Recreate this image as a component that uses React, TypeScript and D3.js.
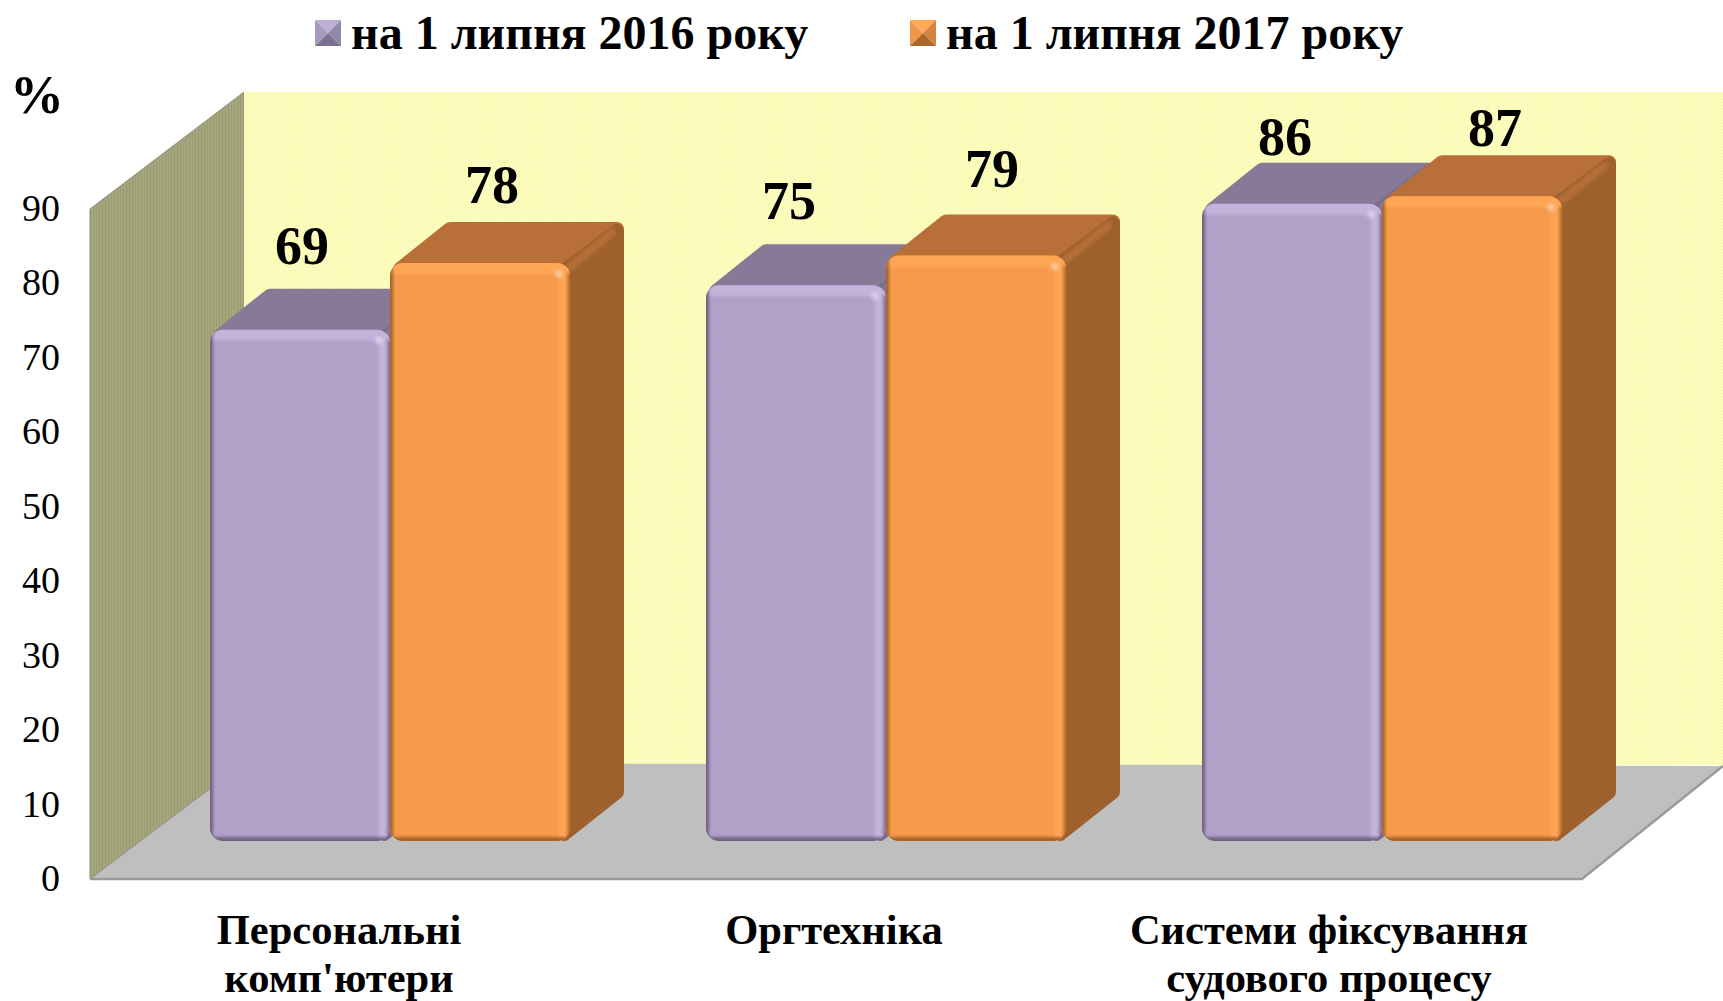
import React from "react";
import * as d3 from "d3";

const categories = ["Персональні комп'ютери", "Оргтехніка", "Системи фіксування судового процесу"];
const categoryLines = [["Персональні", "комп'ютери"], ["Оргтехніка"], ["Системи фіксування", "судового процесу"]];
const seriesNames = ["на 1 липня 2016 року", "на 1 липня 2017 року"];
const values2016 = [69, 75, 86];
const values2017 = [78, 79, 87];
const yTicks = [0, 10, 20, 30, 40, 50, 60, 70, 80, 90];

const W = 1723, H = 1001;
const FONT = "'Liberation Serif', serif";
const depthX = 54, depthY = 41;
const planeY0 = 879, planeY90 = 209;
const barBase = 841;
const plotLeft = 90, plotRight = 1582;

const y = d3.scaleLinear().domain([0, 90]).range([0, planeY0 - planeY90]);
const yBar = d3.scaleLinear().domain([0, 90]).range([0, 667]);
const x0 = d3.scaleBand().domain(categories).range([142, 1630]).paddingInner(136 / 496).paddingOuter(68 / 496);
const x1 = d3.scaleBand().domain(seriesNames).range([0, x0.bandwidth()]);

const palettes = [
  { front: "#B1A0C7", light: "#C4B3DA", dark: "#6F6480", top: "#877A99", side: "#7A6E8C", id: "p" },
  { front: "#F79A4D", light: "#FFA654", dark: "#A8622A", top: "#B97038", side: "#9E612E", id: "o" },
];
const seriesValues = [values2016, values2017];
// hand-placed label offsets from each bar's front centre and top, as in the reference
const labelNudge = [
  [[2, -66], [-7, -66], [-7, -49]],
  [[12, -60], [16, -69], [23, -50]],
];

function Bar({ x, w, v, pal, clip }: any) {
  const yTop = barBase - yBar(v);
  const yb = barBase;
  const r = 13;
  const ins = 7;
  const poly = (pts: number[][]) => "M" + pts.map((p) => p.join(",")).join("L") + "Z";
  const xr = x + w;
  return (
    <g>
      <path
        d={poly([[x + 10, yTop + 6], [x + depthX + 6, yTop - depthY + ins], [xr + depthX - ins, yTop - depthY + ins], [xr, yTop + 6]])}
        fill={pal.top} stroke={pal.top} strokeWidth={ins * 2} strokeLinejoin="round"
      />
      <path
        d={poly([[xr - 6, yTop + 8], [xr + depthX - ins, yTop - depthY + ins + 2], [xr + depthX - ins, yb - depthY - 8], [xr - 6, yb - ins]])}
        fill={pal.side} stroke={pal.side} strokeWidth={ins * 2} strokeLinejoin="round"
      />
      <path d={`M${xr},${yTop + 4}L${xr + depthX - 12},${yTop - depthY + 11}`} stroke={d3.color(pal.top)!.brighter(0.2).formatHex()} strokeWidth={8} strokeLinecap="round" opacity={0.55} filter="url(#soft)" />
      <clipPath id={clip}><rect x={x} y={yTop} width={w} height={yb - yTop} rx={r} ry={r} /></clipPath>
      <g clipPath={`url(#${clip})`}>
        <rect x={x} y={yTop} width={w} height={yb - yTop} fill={pal.front} />
        <g filter="url(#soft)">
          <rect x={x - 4} y={yTop - 4} width={w + 8} height={15} fill={pal.light} />
          <rect x={xr - 11} y={yTop} width={11} height={yb - yTop} fill={pal.light} />
          <rect x={x - 5} y={yTop} width={8} height={yb - yTop + 4} fill={pal.dark} />
          <rect x={xr - 3} y={yTop + 10} width={6} height={yb - yTop} fill={pal.dark} opacity={0.8} />
          <rect x={x - 4} y={yb - 4} width={w + 8} height={8} fill={pal.dark} />
          <circle cx={xr - 11} cy={yTop + 11} r={4} fill="#fff" opacity={0.35} />
        </g>
      </g>
    </g>
  );
}

function Swatch({ x, y: yy, s, base, low }: any) {
  const cx = x + s / 2, cy = yy + s / 2;
  const b = d3.color(base)!;
  return (
    <g filter="url(#soft05)">
      <polygon points={`${x},${yy} ${x + s},${yy} ${cx},${cy}`} fill={b.brighter(0.35).formatHex()} />
      <polygon points={`${x},${yy} ${x},${yy + s} ${cx},${cy}`} fill={base} />
      <polygon points={`${x + s},${yy} ${x + s},${yy + s} ${cx},${cy}`} fill={b.darker(0.35).formatHex()} />
      <polygon points={`${x},${yy + s} ${x + s},${yy + s} ${cx},${cy}`} fill={low} />
    </g>
  );
}

export default function App() {
  const backTop = planeY90 - 117;
  const backBottom = planeY0 - 116;
  const backLeft = 244;
  return (
    <svg width={W} height={H} viewBox={`0 0 ${W} ${H}`} style={{ position: "absolute", left: 0, top: 0, display: "block" }}>
      <defs>
        <filter id="soft" x="-20%" y="-20%" width="140%" height="140%"><feGaussianBlur stdDeviation="1.8" /></filter>
        <filter id="soft05" x="-10%" y="-10%" width="120%" height="120%"><feGaussianBlur stdDeviation="0.6" /></filter>
        <pattern id="wallDots" width="3" height="3" patternUnits="userSpaceOnUse">
          <rect width="3" height="3" fill="#FCFCBA" />
          <rect width="1" height="1" fill="#F7F7A8" />
          <rect x="1.5" y="1.5" width="1" height="1" fill="#FFFFD4" />
        </pattern>
        <pattern id="sideDots" width="3" height="3" patternUnits="userSpaceOnUse">
          <rect width="3" height="3" fill="#A6A67C" />
          <rect width="1" height="3" fill="#9C9C74" />
        </pattern>
      </defs>

      <rect x={backLeft} y={backTop} width={W - backLeft} height={backBottom - backTop + 2} fill="url(#wallDots)" />
      <polygon points={`${plotLeft},${planeY90} ${backLeft},${backTop} ${backLeft},${backBottom} ${plotLeft},${planeY0}`} fill="url(#sideDots)" />
      <polygon points={`${plotLeft},${planeY0} ${plotRight},${planeY0} ${W},${backBottom + 3} ${backLeft},${backBottom}`} fill="#BFBFBF" />
      <path d={`M${plotLeft},${planeY90}L${backLeft},${backTop}M${plotLeft},${planeY90}V${planeY0}L${backLeft},${backBottom}`} stroke="#8E8E82" strokeWidth={1} fill="none" />
      <path d={`M${plotLeft},${planeY0}H${plotRight}L${W},${backBottom + 3}`} stroke="#9A9A9A" strokeWidth={2.5} fill="none" />

      {categories.map((c, ci) => (
        <g key={c}>
          {seriesNames.map((s, si) => (
            <Bar key={s} x={x0(c)! + x1(s)!} w={x1.bandwidth()} v={seriesValues[si][ci]} pal={palettes[si]} clip={`c${ci}${si}`} />
          ))}
        </g>
      ))}

      {categories.map((c, ci) =>
        seriesNames.map((s, si) => (
          <text key={s} x={x0(c)! + x1(s)! + x1.bandwidth() / 2 + labelNudge[si][ci][0]} y={barBase - yBar(seriesValues[si][ci]) + labelNudge[si][ci][1]}
            textAnchor="middle" fontFamily={FONT} fontWeight="bold" fontSize={54} fill="#000">{seriesValues[si][ci]}</text>
        ))
      )}

      {yTicks.map((t) => (
        <text key={t} x={60} y={planeY0 - y(t) + 12} textAnchor="end" fontFamily={FONT} fontSize={38} fill="#000">{t}</text>
      ))}
      <text x={10} y={113} fontFamily={FONT} fontWeight="bold" fontSize={54} fill="#000">%</text>

      {categoryLines.map((lines, i) =>
        lines.map((l, j) => (
          <text key={l} x={[339, 834, 1329][i]} y={944 + j * 48} textAnchor="middle" fontFamily={FONT} fontWeight="bold" fontSize={42.5} fill="#000">{l}</text>
        ))
      )}

      <Swatch x={315} y={20} s={26} base="#A79ABC" low="#7D7090" />
      <text x={351} y={49} fontFamily={FONT} fontWeight="bold" fontSize={48} fill="#000">{seriesNames[0]}</text>
      <Swatch x={910} y={20} s={26} base="#F0954A" low="#A8672F" />
      <text x={946} y={49} fontFamily={FONT} fontWeight="bold" fontSize={48} fill="#000">{seriesNames[1]}</text>
    </svg>
  );
}
